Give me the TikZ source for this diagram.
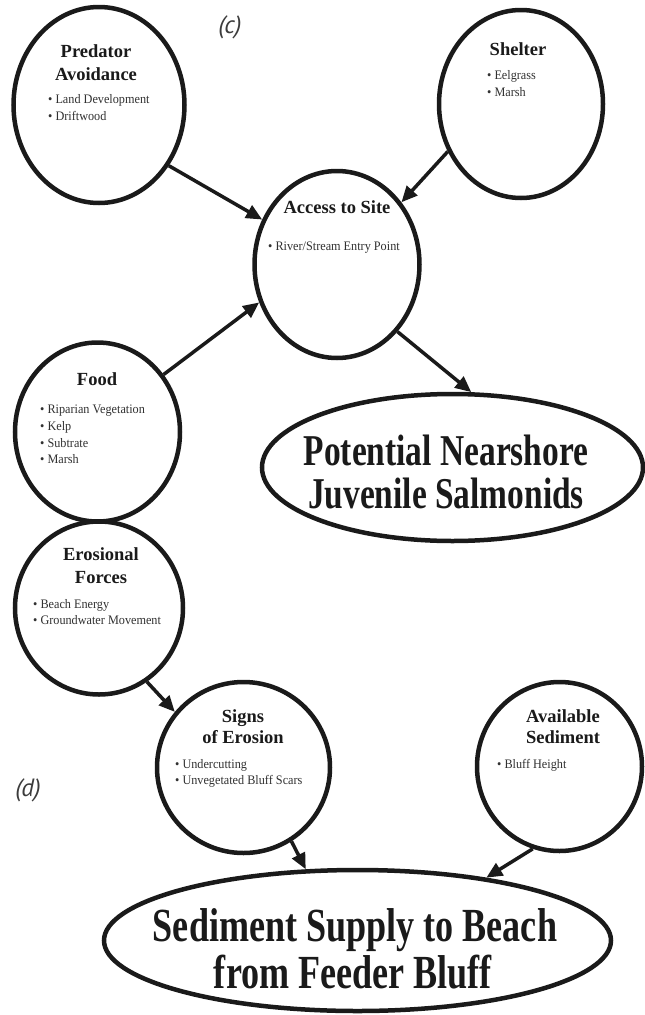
\documentclass[tikz,border=0pt]{standalone}
\usepackage{fontspec}
\setmainfont{Liberation Serif}
\newfontfamily\bulfam[FakeStretch=0.94]{Liberation Serif}
\newfontfamily\bigfam[FakeStretch=0.76]{Liberation Serif}
\newfontfamily\labfam{PT Sans}
\usetikzlibrary{shapes.geometric,arrows.meta}
\definecolor{ink}{HTML}{1A1A1A}
\tikzset{
  oval/.style={ellipse, draw=ink, line width=4.5pt, inner sep=0pt, fill=white},
  ttl/.style={font=\fontsize{18.5}{22}\selectfont\bfseries, anchor=base, inner sep=0pt, text=ink},
  bul/.style={font=\bulfam\fontsize{13}{16}\selectfont, anchor=base west, inner sep=0pt, text=ink!90},
  bigtxt/.style={font=\bigfam\bfseries, anchor=base, inner sep=0pt, text=ink},
  lab/.style={font=\labfam\itshape\fontsize{25}{28}\selectfont, inner sep=0pt, text=ink!85},
  arr/.style={draw=ink, line width=3.5pt, -{Triangle[length=16pt,width=14pt]}},
}
\begin{document}
\begin{tikzpicture}[x=1pt,y=-1pt]
\useasboundingbox (0,0) rectangle (645,1015);

% ellipses
\node[oval, minimum width=171pt, minimum height=196pt] (pred) at (99,105) {};
\node[oval, minimum width=164pt, minimum height=188pt] (shel) at (521,104) {};
\node[oval, minimum width=165pt, minimum height=187pt] (acc) at (337,264.5) {};
\node[oval, minimum width=165pt, minimum height=179pt] (food) at (97.5,432) {};
\node[oval, minimum width=168pt, minimum height=173pt] (ero) at (99,608) {};
\node[oval, minimum width=173pt, minimum height=171pt] (sign) at (243.5,767.5) {};
\node[oval, minimum width=165pt, minimum height=169pt] (avail) at (559.5,766.5) {};
\node[oval, minimum width=507pt, minimum height=141pt] (sed) at (357.5,940.5) {};
\node[oval, minimum width=381pt, minimum height=147pt] (pot) at (452.5,467.5) {};

% connectors
\draw[arr] (pred.-41) -- (acc.149);
\draw[arr] (shel.-147) -- (acc.44);
\draw[arr] (food.41) -- (acc.206);
\draw[arr] (acc.-48) -- (pot.76);
\draw[arr] (ero.-57) -- (sign.141);
\draw[arr] (sign.-57) -- (sed.126);
\draw[arr] (avail.-108) -- (sed.26);

% Predator Avoidance
\node[ttl] (predt1) at (96,57) {Predator};
\node[ttl] (predt2) at (96,80) {Avoidance};
\node[bul] (predb1) at (48,103) {• Land Development};
\node[bul] (predb2) at (48,120) {• Driftwood};

% Shelter
\node[ttl] (shelt1) at (518,55) {Shelter};
\node[bul] (shelb1) at (487,79) {• Eelgrass};
\node[bul] (shelb2) at (487,96) {• Marsh};

% Access to Site
\node[ttl] (acct1) at (337,213) {Access to Site};
\node[bul] (accb1) at (268,250) {• River/Stream Entry Point};

% Food
\node[ttl] (foodt1) at (97,385) {Food};
\node[bul] (foodb1) at (40,413) {• Riparian Vegetation};
\node[bul] (foodb2) at (40,430) {• Kelp};
\node[bul] (foodb3) at (40,447) {• Subtrate};
\node[bul] (foodb4) at (40,463) {• Marsh};

% Erosional Forces
\node[ttl] (erot1) at (101,560) {Erosional};
\node[ttl] (erot2) at (101,583) {Forces};
\node[bul] (erob1) at (33,608) {• Beach Energy};
\node[bul] (erob2) at (33,624) {• Groundwater Movement};

% Signs of Erosion
\node[ttl] (signt1) at (243,722) {Signs};
\node[ttl] (signt2) at (243,743) {of Erosion};
\node[bul] (signb1) at (175,768) {• Undercutting};
\node[bul] (signb2) at (175,784) {• Unvegetated Bluff Scars};

% Available Sediment
\node[ttl] (availt1) at (563,722) {Available};
\node[ttl] (availt2) at (563,743) {Sediment};
\node[bul] (availb1) at (497,768) {• Bluff Height};

% Potential Nearshore
\node[bigtxt, font=\bigfam\bfseries\fontsize{44}{44}\selectfont] (pott1) at (446,465) {Potential Nearshore};
\node[bigtxt, font=\bigfam\bfseries\fontsize{44}{44}\selectfont] (pott2) at (446,508) {Juvenile Salmonids};

% Sediment Supply
\node[bigtxt, font=\bigfam\bfseries\fontsize{47.5}{47.5}\selectfont] (sedt1) at (355,941) {Sediment Supply to Beach};
\node[bigtxt, font=\bigfam\bfseries\fontsize{47.5}{47.5}\selectfont] (sedt2) at (353,988) {from Feeder Bluff};

% panel labels
\node[lab] (labc) at (230,27) {(c)};
\node[lab] (labd) at (28,790) {(d)};
\end{tikzpicture}
\end{document}
